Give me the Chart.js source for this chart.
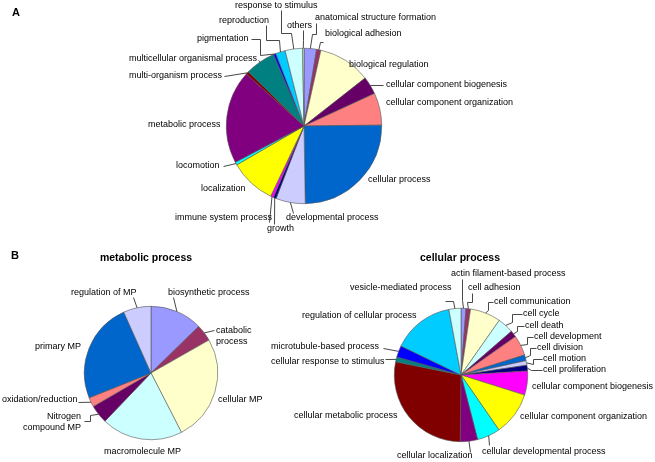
<!DOCTYPE html>
<html>
<head>
<meta charset="utf-8">
<script src="https://cdn.jsdelivr.net/npm/chart.js@4"></script>
<style>
	body { margin: 0; background: #fff; }
	#wrap { position: relative; width: 655px; height: 462px; overflow: hidden; font-family: "Liberation Sans", Arial, sans-serif; }
	#wrap canvas { position: absolute; left: 0; top: 0; }
	.tag { position: absolute; font-weight: bold; font-size: 11px; line-height: 11px; }
	.ttl { position: absolute; font-weight: bold; font-size: 10.5px; line-height: 12px; transform: translate(-50%, -50%); white-space: nowrap; }
</style>
</head>
<body>
<div id="wrap">
	<canvas id="pieA" width="655" height="462"></canvas>
	<canvas id="pieB1" width="655" height="462"></canvas>
	<canvas id="pieB2" width="655" height="462"></canvas>
	<div class="tag" style="left:12px;top:7px">A</div>
	<div class="tag" style="left:11px;top:250px">B</div>
	<div class="ttl" style="left:146px;top:257px">metabolic process</div>
	<div class="ttl" style="left:460px;top:257px">cellular process</div>
</div>
<script>
// ---- data (percent of annotated genes) ----
const categoriesA = ['anatomical structure formation', 'biological adhesion', 'biological regulation',
	'cellular component biogenesis', 'cellular component organization', 'cellular process',
	'developmental process', 'growth', 'immune system process', 'localization', 'locomotion',
	'metabolic process', 'multi-organism process', 'multicellular organismal process',
	'pigmentation', 'reproduction', 'response to stimulus', 'others'];
const valuesA = [2.6, 0.9, 10.9, 3.7, 6.7, 24.9, 6.1, 0.6, 0.6, 9.6, 0.6, 19.4, 0.6, 6.3, 0.5, 2.0, 3.6, 0.3];

const categoriesB1 = ['biosynthetic process', 'catabolic process', 'cellular MP', 'macromolecule MP',
	'Nitrogen compound MP', 'oxidation/reduction', 'primary MP', 'regulation of MP'];
const valuesB1 = [12.7, 4.1, 25.7, 19.7, 4.5, 2.3, 24.4, 6.7];

const categoriesB2 = ['actin filament-based process', 'cell adhesion', 'cell communication', 'cell cycle',
	'cell death', 'cell development', 'cell division', 'cell motion', 'cell proliferation',
	'cellular component biogenesis', 'cellular component organization', 'cellular developmental process',
	'cellular localization', 'cellular metabolic process', 'cellular response to stimulus',
	'microtubule-based process', 'regulation of cellular process', 'vesicle-mediated process'];
const valuesB2 = [1.2, 1.1, 7.4, 3.9, 1.6, 4.9, 1.4, 1.1, 1.4, 5.8, 10.5, 5.6, 4.2, 27.9, 1.2, 2.8, 14.9, 2.9];

// excel-ish palette
const coloursA  = ['#9999FF','#993366','#FFFFCC','#660066','#FF8080','#0066CC','#CCCCFF','#000080','#FF00FF',
	'#FFFF00','#00FFFF','#800080','#800000','#008080','#0000FF','#00CCFF','#CCFFFF','#CCFFCC'];
const coloursB1 = ['#9999FF','#993366','#FFFFCC','#CCFFFF','#660066','#FF8080','#0066CC','#CCCCFF'];
const coloursB2 = ['#9999FF','#993366','#FFFFCC','#CCFFFF','#660066','#FF8080','#0066CC','#CCCCFF','#000080',
	'#FF00FF','#FFFF00','#00FFFF','#800080','#800000','#008080','#0000FF','#00CCFF','#CCFFFF'];

// ---- label placement (page px), leader points run label -> slice edge ----
const layoutA = [
	{ x: 315, y: 18,  leader: [[316, 23], [316, 34], [312, 34]] },
	{ x: 325, y: 34,  leader: [[323, 42], [320, 42]] },
	{ x: 349, y: 65 },
	{ x: 386, y: 85,  leader: [[383, 85]] },
	{ x: 386, y: 103 },
	{ x: 368, y: 180 },
	{ x: 286, y: 218, leader: [[293, 213]] },
	{ x: 267, y: 229, leader: [[274, 224]] },
	{ x: 175, y: 218, leader: [[269, 222]] },
	{ x: 201, y: 189 },
	{ x: 176, y: 166, leader: [[223, 166]] },
	{ x: 148, y: 125 },
	{ x: 129, y: 76,  leader: [[224, 76]] },
	{ x: 129, y: 59,  leader: [[258, 60]] },
	{ x: 197, y: 39,  leader: [[251, 39], [260, 39], [260, 55]] },
	{ x: 219, y: 21,  leader: [[266, 25], [266, 40], [279, 40]] },
	{ x: 235, y: 6,   leader: [[281, 10], [281, 33], [291, 33]] },
	{ x: 287, y: 26,  leader: [[303, 30], [303, 40]] },
];
const layoutB1 = [
	{ x: 168, y: 293, leader: [[173, 297]] },
	{ x: 216, y: 331, wrap: true, leader: [[214, 330]] },
	{ x: 218, y: 400 },
	{ x: 104, y: 452 },
	{ x: 81,  y: 417, wrap: true, align: 'right', leader: [[84, 421], [90, 421], [90, 415]] },
	{ x: 2,   y: 400, leader: [[78, 402]] },
	{ x: 35,  y: 347 },
	{ x: 71,  y: 293, leader: [[133, 297]] },
];
const layoutB2 = [
	{ x: 451, y: 274, leader: [[462, 279], [462, 300]] },
	{ x: 468, y: 288, leader: [[472, 293], [472, 302], [467, 302]] },
	{ x: 494, y: 302, leader: [[493, 302], [488, 302], [488, 310]] },
	{ x: 523, y: 314, leader: [[522, 314], [512, 314], [512, 322]] },
	{ x: 525, y: 326, leader: [[524, 326], [517, 326], [517, 331]] },
	{ x: 534, y: 337, leader: [[533, 337], [527, 337], [527, 344]] },
	{ x: 537, y: 348, leader: [[536, 348], [530, 348], [530, 355]] },
	{ x: 543, y: 359, leader: [[542, 359], [533, 359], [533, 364]] },
	{ x: 543, y: 370, leader: [[542, 370], [531, 370]] },
	{ x: 532, y: 387 },
	{ x: 520, y: 417 },
	{ x: 482, y: 452, leader: [[489, 445]] },
	{ x: 397, y: 456, leader: [[470, 452]] },
	{ x: 294, y: 416 },
	{ x: 271, y: 362, leader: [[385, 359]] },
	{ x: 271, y: 347, leader: [[383, 348]] },
	{ x: 302, y: 316 },
	{ x: 350, y: 288, leader: [[445, 301], [453, 301]] },
];

// draws each slice's name + elbow leader line ending at the slice's outer midpoint
const leaderLabels = {
	id: 'leaderLabels',
	afterDatasetsDraw(chart, args, opts) {
		const ctx  = chart.ctx;
		const meta = chart.getDatasetMeta(0);
		ctx.save();
		ctx.font = '9px "Liberation Sans", Arial, sans-serif';
		ctx.fillStyle = '#000';
		ctx.textBaseline = 'middle';
		ctx.strokeStyle = '#333';
		ctx.lineWidth = 0.9;
		opts.items.forEach((it, i) => {
			const arc = meta.data[i];
			if (!arc) return;
			const p   = arc.getProps(['x', 'y', 'startAngle', 'endAngle', 'outerRadius'], true);
			const mid = (p.startAngle + p.endAngle) / 2;
			const ex  = p.x + Math.cos(mid) * p.outerRadius;
			const ey  = p.y + Math.sin(mid) * p.outerRadius;
			if (it.leader) {
				ctx.beginPath();
				ctx.moveTo(it.leader[0][0] + 0.5, it.leader[0][1] + 0.5);
				it.leader.slice(1).forEach(pt => ctx.lineTo(pt[0] + 0.5, pt[1] + 0.5));
				ctx.lineTo(ex, ey);
				ctx.stroke();
			}
			const text  = chart.data.labels[i];
			const cut   = text.indexOf(' ');
			const lines = it.wrap ? [text.slice(0, cut), text.slice(cut + 1)] : [text];
			ctx.textAlign = it.align || 'left';
			lines.forEach((l, k) => ctx.fillText(l, it.x, it.y + k * 11));
		});
		ctx.restore();
	}
};

function makePie(id, labels, values, colours, layout, pad) {
	return new Chart(document.getElementById(id), {
		type: 'pie',
		data: {
			labels,
			datasets: [{
				data: values,
				backgroundColor: colours,
				borderColor: '#555',
				borderWidth: 0.6,
			}]
		},
		options: {
			responsive: false,
			animation: false,
			events: [],
			layout: { padding: pad },
			plugins: {
				legend: { display: false },
				tooltip: { enabled: false },
				leaderLabels: { items: layout },
			}
		},
		plugins: [leaderLabels]
	});
}

// pie A: centre (304,126) r 78 ; B1: (151,373) r 67 ; B2: (461,375) r 67
makePie('pieA',  categoriesA,  valuesA,  coloursA,  layoutA,  { left: 226, right: 273, top: 48,  bottom: 258 });
makePie('pieB1', categoriesB1, valuesB1, coloursB1, layoutB1, { left: 84,  right: 437, top: 306, bottom: 22 });
makePie('pieB2', categoriesB2, valuesB2, coloursB2, layoutB2, { left: 394, right: 127, top: 308, bottom: 20 });
</script>
</body>
</html>
